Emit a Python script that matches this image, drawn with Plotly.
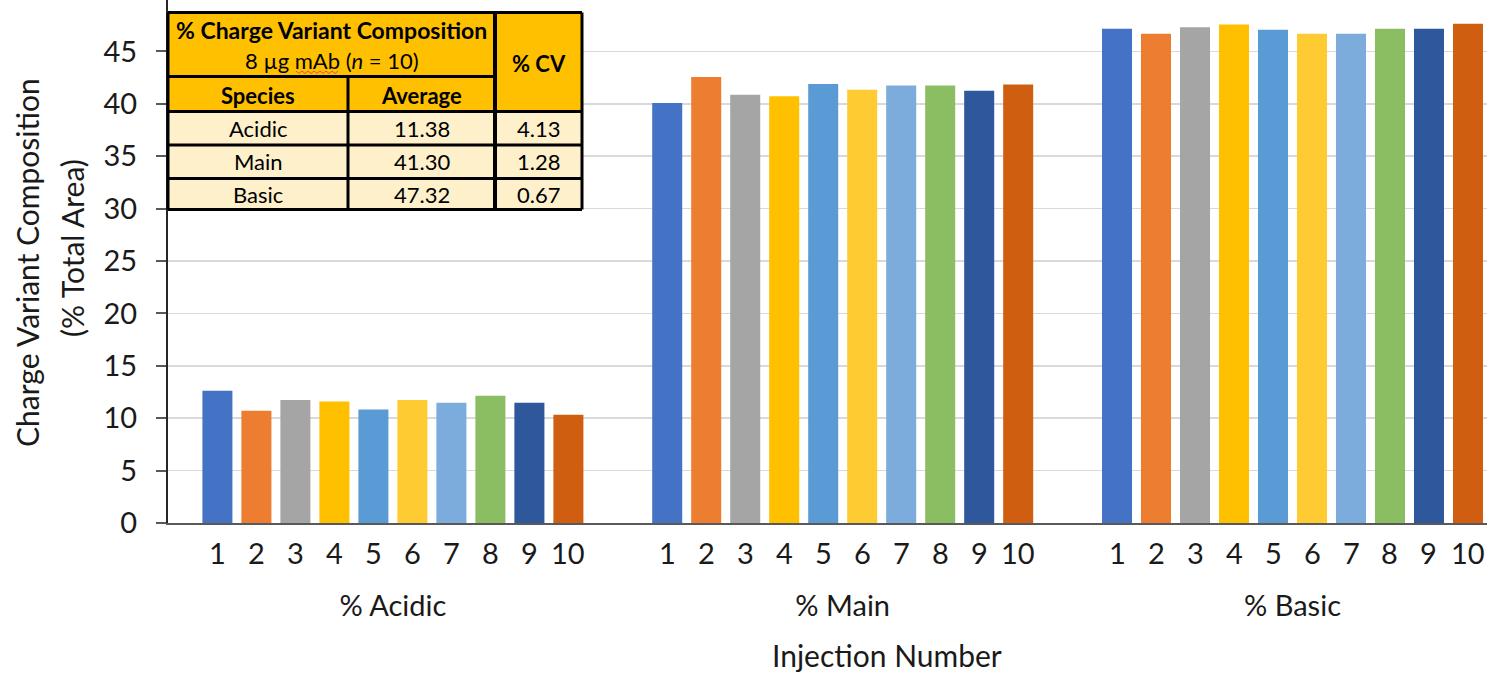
import plotly.graph_objects as go

# ---------------- data ----------------
categories = ["% Acidic", "% Main", "% Basic"]
injections = ["1", "2", "3", "4", "5", "6", "7", "8", "9", "10"]
acidic = [12.61, 10.71, 11.73, 11.60, 10.84, 11.73, 11.47, 12.14, 11.47, 10.32]
main = [40.07, 42.55, 40.87, 40.71, 41.88, 41.34, 41.75, 41.75, 41.25, 41.85]
basic = [47.16, 46.68, 47.31, 47.57, 47.06, 46.68, 46.68, 47.16, 47.16, 47.64]
colors = ["#4472C4", "#ED7D31", "#A5A5A5", "#FFC000", "#5B9BD5",
          "#FFCB33", "#7BACDC", "#8BBD62", "#2E579C", "#D05E10"]

tbl_species = ["Acidic", "Main", "Basic"]
tbl_average = ["11.38", "41.30", "47.32"]
tbl_cv = ["4.13", "1.28", "0.67"]

# ---------------- layout geometry ----------------
W, H = 1487, 673
ML, MR, MT, MB = 168, 0, 0, 150
PW, PH = W - ML - MR, H - MT - MB
PX_PER_UNIT = 10.48
Y_MAX = PH / PX_PER_UNIT
CAT_PX = 449.8           # pixel width of one category
BARGAP = 0.133
GROUPGAP = 0.23
FONT = "Lato"
TXT = "#1a1a1a"

P_LEFT, P_TOP = ML, MT
P_BOTTOM = P_TOP + PH


def px(xp):
    return (xp - P_LEFT) / PW


def py(yp):
    return (P_BOTTOM - yp) / PH


fig = go.Figure()
for i, name in enumerate(injections):
    fig.add_trace(go.Bar(
        x=categories,
        y=[acidic[i], main[i], basic[i]],
        name=name,
        marker=dict(color=colors[i], line=dict(width=0)),
        showlegend=False,
    ))

annotations = []
shapes = []

# injection labels under each bar (category index + offset within group)
slot = (1 - BARGAP) / len(injections)
for g in range(len(categories)):
    for i, name in enumerate(injections):
        annotations.append(dict(
            x=g + (i - (len(injections) - 1) / 2) * slot, xref="x",
            y=0, yref="paper", yshift=-29, xanchor="center", yanchor="middle",
            text=name, showarrow=False,
            font=dict(family=FONT, size=29, color=TXT)))

# axis titles
annotations.append(dict(
    x=px(887), y=py(655), xref="paper", yref="paper",
    xanchor="center", yanchor="middle",
    text="Injection Number", showarrow=False,
    font=dict(family=FONT, size=30, color=TXT)))
annotations.append(dict(
    x=px(27), y=py(263), xref="paper", yref="paper", textangle=-90,
    xanchor="center", yanchor="middle",
    text="Charge Variant Composition", showarrow=False,
    font=dict(family=FONT, size=30, color=TXT)))
annotations.append(dict(
    x=px(72), y=py(248), xref="paper", yref="paper", textangle=-90,
    xanchor="center", yanchor="middle",
    text="(% Total Area)", showarrow=False,
    font=dict(family=FONT, size=30, color=TXT)))

# ---------------- inset table ----------------
cx = [168, 348, 495, 582]
ry = [12.5, 76.5, 111.5, 145, 178.5, 209.5]
GOLD = "#FFC000"
CREAM = "#FDF0CB"


def rect(x0, y0, x1, y1, fill):
    shapes.append(dict(type="rect", xref="paper", yref="paper",
                       x0=px(x0), x1=px(x1), y0=py(y0), y1=py(y1),
                       fillcolor=fill, line=dict(width=0), layer="above"))


def hline(x0, x1, y, w=3):
    shapes.append(dict(type="line", xref="paper", yref="paper",
                       x0=px(x0), x1=px(x1), y0=py(y), y1=py(y),
                       line=dict(color="#000000", width=w), layer="above"))


def vline(x, y0, y1, w=3):
    shapes.append(dict(type="line", xref="paper", yref="paper",
                       x0=px(x), x1=px(x), y0=py(y0), y1=py(y1),
                       line=dict(color="#000000", width=w), layer="above"))


rect(cx[0], ry[0], cx[3], ry[2], GOLD)
rect(cx[0], ry[2], cx[3], ry[5], CREAM)
hline(cx[0], cx[3], ry[0])
hline(cx[0], cx[2], ry[1])
for k in range(2, 6):
    hline(cx[0], cx[3], ry[k])
vline(cx[0], ry[0], ry[5])
vline(cx[1], ry[1], ry[5])
vline(cx[2], ry[0], ry[5], w=4)
vline(cx[3], ry[0], ry[5])

# red spell-check squiggle under "mAb"
zx = [296 + 3 * k for k in range(15)]
path = "M " + " L ".join(
    f"{px(x):.5f},{py(72 + (1.5 if k % 2 else -1.0)):.5f}" for k, x in enumerate(zx))
shapes.append(dict(type="path", xref="paper", yref="paper", path=path,
                   line=dict(color="#E05050", width=1), layer="above"))


def cell_text(x, y, text, bold=False, size=22):
    annotations.append(dict(
        x=px(x), y=py(y), xref="paper", yref="paper",
        text=f"<b>{text}</b>" if bold else text, showarrow=False,
        xanchor="center", yanchor="middle",
        font=dict(family=FONT, size=size, color="#000000")))


cell_text((cx[0] + cx[2]) / 2, 30, "% Charge Variant Composition", bold=True, size=23)
cell_text((cx[0] + cx[2]) / 2, 61, "8 µg mAb (<i>n</i> = 10)")
cell_text((cx[2] + cx[3]) / 2, 63, "% CV", bold=True)
cell_text((cx[0] + cx[1]) / 2, 95, "Species", bold=True)
cell_text((cx[1] + cx[2]) / 2, 95, "Average", bold=True)
for r in range(3):
    yc = (ry[r + 2] + ry[r + 3]) / 2
    cell_text((cx[0] + cx[1]) / 2, yc, tbl_species[r])
    cell_text((cx[1] + cx[2]) / 2, yc, tbl_average[r])
    cell_text((cx[2] + cx[3]) / 2, yc, tbl_cv[r])

fig.update_layout(
    width=W, height=H,
    margin=dict(l=ML, r=MR, t=MT, b=MB, pad=0),
    paper_bgcolor="white", plot_bgcolor="white",
    barmode="group", bargap=BARGAP, bargroupgap=GROUPGAP,
    annotations=annotations, shapes=shapes,
    hovermode=False,
    xaxis=dict(
        type="category", range=[-0.5, -0.5 + PW / CAT_PX],
        showgrid=False, showline=True, linecolor="#595959", linewidth=2,
        ticks="", ticklabelstandoff=56,
        tickfont=dict(family=FONT, size=29, color=TXT), fixedrange=True),
    yaxis=dict(
        range=[0, Y_MAX], tickvals=[0, 5, 10, 15, 20, 25, 30, 35, 40, 45],
        showgrid=True, gridcolor="#D9D9D9", gridwidth=1.5,
        showline=True, linecolor="#262626", linewidth=2,
        ticks="outside", ticklen=10, tickcolor="#595959", tickwidth=2,
        ticklabelstandoff=13,
        tickfont=dict(family=FONT, size=29, color=TXT), zeroline=False,
        fixedrange=True),
)

# remove the default 8px page margin so the figure fills the window exactly
fig.write_html(
    "out.html",
    config={"displayModeBar": False, "staticPlot": True},
    post_script="document.body.style.margin='0';document.body.style.overflow='hidden';",
)
